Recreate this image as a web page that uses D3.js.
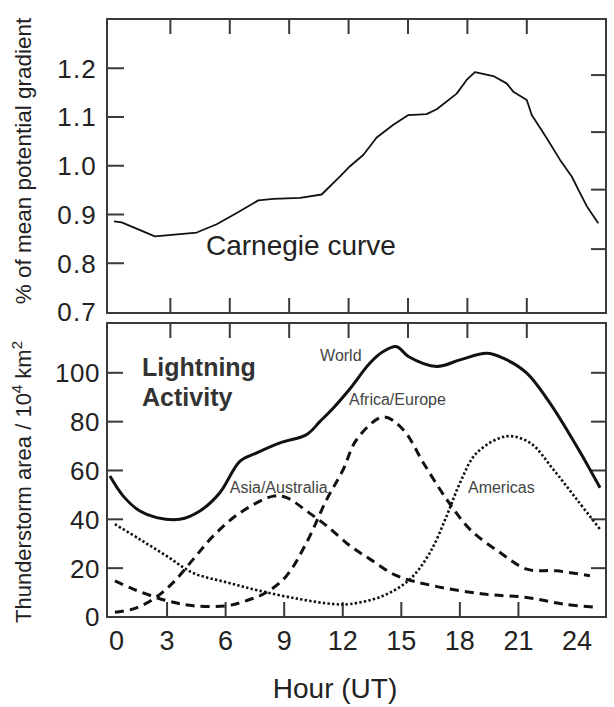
<!DOCTYPE html>
<html>
<head>
<meta charset="utf-8">
<script src="https://cdn.jsdelivr.net/npm/d3@7"></script>
<style>
	body { margin: 0; background: #fff; }
	svg { display: block; }
	text { font-family: "Liberation Sans", Arial, Helvetica, sans-serif; fill: #222; }
</style>
</head>
<body>
<svg></svg>
<script>
// Carnegie curve: [hour, fraction of mean potential gradient]
const carnegie = [
	[0.15, 0.886], [0.54, 0.884], [2.22, 0.855], [4.33, 0.863], [5.34, 0.880],
	[6.35, 0.903], [7.44, 0.929], [8.2, 0.932], [9.55, 0.934], [10.64, 0.941],
	[11.57, 0.978], [12.07, 0.999], [12.74, 1.022], [13.42, 1.058], [14.26, 1.084],
	[15.02, 1.104], [15.94, 1.106], [16.45, 1.116], [17.46, 1.148], [17.96, 1.176],
	[18.38, 1.192], [19.31, 1.184], [19.98, 1.169], [20.32, 1.152], [21.0, 1.135],
	[21.25, 1.104], [21.75, 1.073], [22.0, 1.057], [22.68, 1.012], [23.27, 0.978],
	[23.69, 0.944], [24.03, 0.917], [24.61, 0.882]
];

// thunderstorm area, 10^4 km^2: [hour, area]
const world = [
	[-0.05, 57.7], [0.62, 49.5], [1.46, 43.4], [2.31, 40.7], [3.48, 40.0],
	[4.49, 43.4], [5.5, 50.9], [6.52, 63.8], [7.36, 67.2], [8.54, 71.3],
	[9.88, 74.7], [10.56, 80.1], [11.23, 85.6], [12.07, 93.5], [13.08, 104],
	[13.75, 108.7], [14.43, 110.7], [15.02, 106.7], [16.45, 102.6], [17.63, 105.3],
	[18.97, 108], [19.81, 106], [21.0, 99.9], [22.17, 87.6], [23.52, 69.9], [24.7, 52.9]
];
const asiaAustralia = [
	[0.2, 1.9], [1.13, 3.3], [2.14, 7.3], [3.15, 14.2], [4.16, 23.7], [5.17, 33.2],
	[6.52, 42.7], [8.2, 49.5], [8.87, 48.9], [9.88, 43.4], [10.9, 37.3], [12.1, 29.0],
	[13.08, 23.7], [14.43, 16.9], [16.28, 12.8], [18.8, 9.4], [21.0, 8.0],
	[22.84, 5.3], [24.44, 4.0]
];
const africaEurope = [
	[0.2, 14.8], [1.13, 11.4], [2.81, 6.7], [4.16, 4.6], [5.84, 4.6], [6.85, 6.7],
	[7.86, 10.1], [8.87, 16.9], [9.88, 30.5], [10.9, 48.2], [11.73, 60.4],
	[12.41, 72.7], [13.75, 81.9], [14.76, 76.7], [15.78, 63.1], [16.95, 48.2],
	[18.13, 35.9], [19.65, 26.4], [21.0, 19.6], [22.5, 18.9], [24.19, 16.9]
];
const americas = [
	[0.2, 38.0], [1.46, 31.8], [2.81, 25.0], [4.16, 18.0], [5.84, 14.2], [7.53, 10.7],
	[9.55, 7.3], [11.23, 5.3], [12.07, 5.3], [13.75, 8.7], [15.1, 15.5], [16.11, 26.4],
	[16.95, 41.3], [17.63, 55.0], [18.47, 67.2], [19.98, 74.0], [21.17, 71.3],
	[22.34, 60.4], [23.52, 48.2], [24.7, 35.9]
];

const hourLabels = [0, 3, 6, 9, 12, 15, 18, 21, 24];
const hourTicks = [3, 6, 9, 12, 15, 18, 21];
const gradientTicks = [0.7, 0.8, 0.9, 1.0, 1.1, 1.2];
const gradientRightTicks = [0.829, 0.951, 1.069, 1.186];
const areaTicks = [0, 20, 40, 60, 80, 100];

const seriesLabels = [
	{ text: 'World', hour: 10.56, value: 105 },
	{ text: 'Africa/Europe', hour: 12.02, value: 87 },
	{ text: 'Asia/Australia', hour: 6.0, value: 50.7 },
	{ text: 'Americas', hour: 18.03, value: 50.7 }
];

const W = 614, H = 707;
const left = 107, right = 606;
const top1 = 19, bottom1 = 313;
const top2 = 323, bottom2 = 617;
const tickLen = 15;

const svg = d3.select('svg').attr('width', W).attr('height', H);

// hours inside the frames
const x = d3.scaleLinear().domain([-0.2, 25]).range([left, right]);
// labelled hour axis under the lower panel
const xb = d3.scaleLinear().domain([0, 24]).range([108.5, 577]);

const yTop = d3.scaleLinear().domain([0.7, 1.3]).range([312, 19.5]);
const yBot = d3.scaleLinear().domain([0, 120.4]).range([bottom2, top2]);

const frameColor = '#3a3a3a';

function frame(y0, y1) {
	svg.append('rect')
		.attr('x', left).attr('y', y0)
		.attr('width', right - left).attr('height', y1 - y0)
		.attr('fill', 'none')
		.attr('stroke', frameColor)
		.attr('stroke-width', 2);
}

function hTicks(values, y, dir, scale) {
	svg.append('g').selectAll('line')
		.data(values)
		.enter().append('line')
		.attr('x1', d => scale(d)).attr('x2', d => scale(d))
		.attr('y1', y).attr('y2', y + dir * tickLen)
		.attr('stroke', frameColor)
		.attr('stroke-width', 2);
}

function vTicks(values, scale, x0, dir, len) {
	svg.append('g').selectAll('line')
		.data(values)
		.enter().append('line')
		.attr('x1', x0).attr('x2', x0 + dir * len)
		.attr('y1', d => scale(d)).attr('y2', d => scale(d))
		.attr('stroke', frameColor)
		.attr('stroke-width', 2);
}

// upper panel: Carnegie curve
frame(top1, bottom1);
hTicks(hourTicks, top1, 1, x);
hTicks(hourTicks, bottom1, -1, x);
vTicks(gradientTicks.filter(d => d > 0.7), yTop, left, 1, 17);
vTicks(gradientRightTicks, yTop, right, -1, tickLen);

svg.append('g').selectAll('text')
	.data(gradientTicks)
	.enter().append('text')
	.attr('x', 97)
	.attr('y', d => yTop(d))
	.attr('dy', '0.36em')
	.attr('text-anchor', 'end')
	.attr('font-size', 26)
	.attr('letter-spacing', 1.2)
	.text(d => d.toFixed(1));

svg.append('text')
	.attr('transform', 'translate(31,' + 161 + ') rotate(-90)')
	.attr('text-anchor', 'middle')
	.attr('font-size', 22.5)
	.text('% of mean potential gradient');

const lineTop = d3.line()
	.x(d => x(d[0]))
	.y(d => yTop(d[1]));

svg.append('path')
	.datum(carnegie)
	.attr('d', lineTop)
	.attr('fill', 'none')
	.attr('stroke', '#111')
	.attr('stroke-width', 1.8)
	.attr('stroke-linejoin', 'round');

svg.append('text')
	.attr('x', x(4.8))
	.attr('y', yTop(0.817))
	.attr('font-size', 28)
	.text('Carnegie curve');

// lower panel: thunderstorm area
frame(top2, bottom2);
hTicks(hourTicks, top2, 1, x);
hTicks(hourTicks, bottom2, -1, xb);
vTicks(areaTicks.filter(d => d > 0), yBot, left, 1, 16);
vTicks(areaTicks.filter(d => d > 0), yBot, right, -1, tickLen);

svg.append('g').selectAll('text')
	.data(areaTicks)
	.enter().append('text')
	.attr('x', 100)
	.attr('y', d => yBot(d))
	.attr('dy', '0.36em')
	.attr('text-anchor', 'end')
	.attr('font-size', 26)
	.attr('letter-spacing', 0.5)
	.text(d => d);

svg.append('g').selectAll('text')
	.data(hourLabels)
	.enter().append('text')
	.attr('x', d => xb(d) + (d === 0 ? 8 : 0))
	.attr('y', 650)
	.attr('text-anchor', 'middle')
	.attr('font-size', 27)
	.text(d => d);

svg.append('text')
	.attr('x', 335)
	.attr('y', 698)
	.attr('text-anchor', 'middle')
	.attr('font-size', 28)
	.text('Hour (UT)');

const yTitle = svg.append('text')
	.attr('transform', 'translate(31,' + 482 + ') rotate(-90)')
	.attr('text-anchor', 'middle')
	.attr('font-size', 22);
yTitle.append('tspan').text('Thunderstorm area / 10');
yTitle.append('tspan').attr('font-size', 15).attr('dy', -9).text('4');
yTitle.append('tspan').attr('dy', 9).text(' km');
yTitle.append('tspan').attr('font-size', 15).attr('dy', -9).text('2');

const lineBot = d3.line()
	.x(d => x(d[0]))
	.y(d => yBot(d[1]))
	.curve(d3.curveCatmullRom.alpha(0.5));

svg.append('g')
	.selectAll('path')
	.data([
		{ data: world, dash: null, width: 3 },
		{ data: asiaAustralia, dash: '9,6', width: 3 },
		{ data: africaEurope, dash: '9,6', width: 3 },
		{ data: americas, dash: '2.4,2.2', width: 2.6 }
	])
	.enter().append('path')
	.attr('d', d => lineBot(d.data))
	.attr('fill', 'none')
	.attr('stroke', '#111')
	.attr('stroke-width', d => d.width)
	.attr('stroke-dasharray', d => d.dash);

svg.append('g').selectAll('text')
	.data(seriesLabels)
	.enter().append('text')
	.attr('x', d => x(d.hour))
	.attr('y', d => yBot(d.value))
	.attr('font-size', 16)
	.style('fill', '#444')
	.text(d => d.text);

const title = svg.append('text')
	.attr('x', x(1.57))
	.attr('y', yBot(98.9))
	.attr('font-size', 25)
	.attr('font-weight', 'bold')
	.style('fill', '#333');
title.append('tspan').text('Lightning');
title.append('tspan').attr('x', x(1.57)).attr('dy', 30).text('Activity');
</script>
</body>
</html>
